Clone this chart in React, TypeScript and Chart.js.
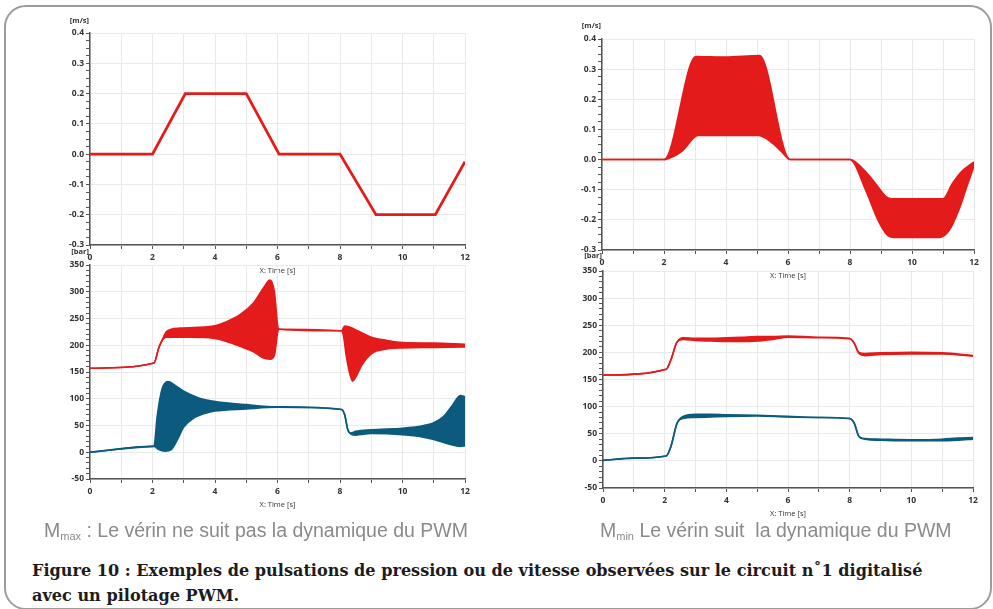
import React, { useEffect, useRef } from 'react';
import { Chart, registerables } from 'chart.js';

Chart.register(...registerables);

const RED = '#e31b1b';
const BLUE = '#0c5b7e';

// ---- Mmax, speed [m/s] ----
const mmaxSpeedTime = [0, 2, 3.05, 5, 6.05, 8, 9.15, 11.05, 12];
const mmaxSpeed = [0, 0, 0.2, 0.2, 0, 0, -0.2, -0.2, -0.025];

// ---- Mmin, speed [m/s] : envelope of the PWM oscillation ----
const mminSpeedUpTime = [0, 2, 3.03, 4, 5.08, 6.07, 8, 8.5, 8.9, 9.15, 9.35, 11.0, 11.3, 11.6, 12];
const mminSpeedUp = [0, 0, 0.342, 0.34, 0.345, 0, 0, -0.04, -0.09, -0.122, -0.13, -0.13, -0.08, -0.04, -0.008];
const mminSpeedLoTime = [0, 2, 2.3, 2.6, 3.1, 5.05, 5.3, 5.55, 5.8, 6.07, 8, 8.5, 8.9, 9.2, 9.4, 10.9, 11.2, 11.5, 11.8, 12];
const mminSpeedLo = [0, 0, 0.01, 0.03, 0.08, 0.08, 0.07, 0.05, 0.025, 0, 0, -0.1, -0.2, -0.25, -0.258, -0.258, -0.235, -0.17, -0.08, -0.022];

// ---- Mmax, pressures [bar] ----
const mmaxRedUpTime = [0, 2.05, 2.2, 2.35, 2.45, 2.88, 3.95, 4.37, 4.8, 5.23, 5.55, 5.76, 5.9, 6.02, 6.06, 8.05, 8.15, 8.3, 8.6, 9.0, 9.5, 10, 11, 12];
const mmaxRedUp = [157, 167, 195, 215, 226, 232, 236, 244, 257, 279, 307, 322, 300, 232, 230, 227, 236, 234, 226, 215, 209, 205, 204, 202];
const mmaxRedLoTime = [0, 2.05, 2.2, 2.35, 2.45, 3.2, 3.95, 4.37, 4.8, 5.23, 5.55, 5.76, 5.9, 6.02, 6.06, 8.05, 8.12, 8.2, 8.3, 8.4, 8.5, 8.7, 9.0, 9.5, 10, 11, 12];
const mmaxRedLo = [157, 167, 195, 212, 215, 215, 213, 207, 198, 188, 176, 174, 181, 228, 230, 227, 215, 180, 150, 133, 140, 163, 184, 193, 195, 196, 197];
const mmaxBlueUpTime = [0, 2.0, 2.05, 2.15, 2.3, 2.5, 2.7, 3.0, 3.5, 4.0, 5.0, 6.0, 8.05, 8.15, 8.25, 8.35, 8.5, 9.0, 10, 10.5, 11, 11.3, 11.6, 11.85, 12];
const mmaxBlueUp = [0, 11, 12, 67, 117, 132, 126, 114, 101, 95, 89, 85, 80, 70, 42, 36, 39, 42, 45, 48, 55, 66, 88, 106, 104];
const mmaxBlueLoTime = [0, 2.0, 2.05, 2.2, 2.4, 2.6, 2.8, 3.0, 3.3, 3.7, 4.0, 5.0, 6.0, 8.05, 8.15, 8.25, 8.35, 8.5, 9.0, 10, 10.5, 11, 11.5, 11.85, 12];
const mmaxBlueLo = [0, 11, 11, 5, 2, 5, 24, 47, 63, 73, 77, 81, 84, 80, 70, 42, 34, 32, 35, 33, 30, 24, 15, 11, 12];

// ---- Mmin, pressures [bar] ----
const mminRedTime = [0, 2.05, 2.2, 2.4, 2.6, 3, 3.5, 4, 4.5, 5, 5.5, 6, 7, 8, 8.15, 8.3, 8.5, 9, 10, 11, 12];
const mminRedUp = [158, 169, 186, 219, 227, 226, 226, 227, 228, 229, 229, 230, 228, 226, 217, 200, 198, 199, 200, 199, 194];
const mminRedLo = [158, 169, 186, 219, 224, 222, 221, 220, 220, 221, 224, 228, 227, 225, 216, 198, 194, 196, 197, 197, 193];
const mminBlueTime = [0, 1, 2.05, 2.2, 2.4, 2.6, 3, 3.5, 4, 5, 6, 7, 8, 8.15, 8.3, 8.5, 9, 10, 11, 11.5, 12];
const mminBlueUp = [1, 5, 9, 26, 69, 82, 86, 86, 85, 84, 82, 80, 78, 69, 45, 41, 40, 39, 40, 42, 43];
const mminBlueLo = [1, 5, 9, 26, 69, 78, 80, 81, 82, 83, 81, 80, 78, 69, 45, 40, 38, 37, 37, 38, 40];

const speedTicks = { min: -0.3, max: 0.4, minor: 0.025, major: 0.1, decimals: 1 };
const pressureTicks = { min: -50, max: 350, minor: 10, major: 50, decimals: 0 };

const TICK_FONT = { family: '"Open Sans", "DejaVu Sans", sans-serif', size: 8.5, weight: 'bold' as const };

function pts(t: number[], v: number[]) {
  return t.map((x, i) => ({ x, y: v[i] }));
}

function bandDatasets(color: string, upT: number[], up: number[], loT: number[], lo: number[]) {
  return [
    {
      data: pts(upT, up),
      borderColor: color,
      backgroundColor: color,
      borderWidth: 1.6,
      pointRadius: 0,
      cubicInterpolationMode: 'monotone' as const,
      fill: false,
    },
    {
      data: pts(loT, lo),
      borderColor: color,
      backgroundColor: color,
      borderWidth: 1.6,
      pointRadius: 0,
      cubicInterpolationMode: 'monotone' as const,
      fill: '-1',
    },
  ];
}

const unitLabel = {
  id: 'unitLabel',
  afterDraw(chart: any, _args: any, opts: any) {
    const { ctx, chartArea } = chart;
    ctx.save();
    ctx.font = 'bold 7.5px "Open Sans", "DejaVu Sans", sans-serif';
    ctx.fillStyle = '#333';
    ctx.textAlign = 'right';
    ctx.textBaseline = 'middle';
    ctx.fillText(opts.text, chartArea.left + (opts.dx || 0), chartArea.top - opts.dy);
    ctx.restore();
  },
};

function isMultiple(v: number, step: number) {
  const r = v / step;
  return Math.abs(r - Math.round(r)) < 1e-6;
}

function makeConfig(datasets: any[], t: typeof speedTicks, unit: string, unitDy: number, padRight: number): any {
  return {
    type: 'line',
    data: { datasets },
    plugins: [unitLabel],
    options: {
      animation: false,
      responsive: false,
      events: [],
      layout: { padding: { top: 25, right: padRight, left: 0, bottom: 0 } },
      plugins: {
        legend: { display: false },
        tooltip: { enabled: false },
        unitLabel: { text: unit, dy: unitDy, dx: -1 },
      },
      scales: {
        x: {
          type: 'linear',
          min: 0,
          max: 12,
          afterFit: (s: any) => {
            s.height = 38;
          },
          ticks: {
            stepSize: 1,
            autoSkip: false,
            maxRotation: 0,
            padding: 3,
            color: '#333',
            font: TICK_FONT,
            callback: (v: number) => (isMultiple(v, 2) ? String(Math.round(v)) : ''),
          },
          grid: { color: '#e9e9e9', lineWidth: 1, tickLength: 4, tickColor: '#555', tickWidth: 1 },
          border: { color: '#555', width: 1.5 },
          title: {
            display: true,
            text: 'X: Time [s]',
            color: '#333',
            font: { family: '"Open Sans", "DejaVu Sans", sans-serif', size: 7.5 },
            padding: { top: 0, bottom: 8 },
          },
        },
        y: {
          type: 'linear',
          min: t.min,
          max: t.max,
          afterFit: (s: any) => {
            s.width = 50;
          },
          ticks: {
            stepSize: t.minor,
            autoSkip: false,
            padding: 2,
            color: '#333',
            font: TICK_FONT,
            callback: (v: number) => (isMultiple(v, t.major) ? v.toFixed(t.decimals) : ''),
          },
          grid: {
            color: (ctx: any) => (ctx.tick && isMultiple(ctx.tick.value, t.major) ? '#e9e9e9' : 'rgba(0,0,0,0)'),
            lineWidth: 1,
            tickLength: 4,
            tickColor: '#555',
            tickWidth: 1,
          },
          border: { color: '#555', width: 1.5 },
        },
      },
    },
  };
}

function Plot({ left, top, width, height, config }: { left: number; top: number; width: number; height: number; config: () => any }) {
  const ref = useRef<HTMLCanvasElement>(null);
  useEffect(() => {
    const chart = new Chart(ref.current as HTMLCanvasElement, config());
    return () => chart.destroy();
  }, []);
  return (
    <canvas
      ref={ref}
      width={width}
      height={height}
      style={{ position: 'absolute', left, top, width, height, display: 'block' }}
    />
  );
}

const captionStyle: React.CSSProperties = {
  position: 'absolute',
  fontFamily: '"Liberation Sans", Arial, sans-serif',
  fontSize: 19.5,
  color: '#8a8a8a',
  whiteSpace: 'nowrap',
  lineHeight: '22px',
};

export default function App() {
  const tl = () =>
    makeConfig(
      [
        {
          data: pts(mmaxSpeedTime, mmaxSpeed),
          borderColor: RED,
          borderWidth: 2.8,
          pointRadius: 0,
          tension: 0,
          fill: false,
        },
      ],
      speedTicks,
      '[m/s]',
      12,
      25
    );
  const tr = () =>
    makeConfig(bandDatasets(RED, mminSpeedUpTime, mminSpeedUp, mminSpeedLoTime, mminSpeedLo), speedTicks, '[m/s]', 13, 15);
  const bl = () =>
    makeConfig(
      [
        ...bandDatasets(RED, mmaxRedUpTime, mmaxRedUp, mmaxRedLoTime, mmaxRedLo),
        ...bandDatasets(BLUE, mmaxBlueUpTime, mmaxBlueUp, mmaxBlueLoTime, mmaxBlueLo),
      ],
      pressureTicks,
      '[bar]',
      13,
      25
    );
  const br = () =>
    makeConfig(
      [
        ...bandDatasets(RED, mminRedTime, mminRedUp, mminRedTime, mminRedLo),
        ...bandDatasets(BLUE, mminBlueTime, mminBlueUp, mminBlueTime, mminBlueLo),
      ],
      pressureTicks,
      '[bar]',
      15,
      15
    );

  return (
    <div style={{ position: 'absolute', left: 0, top: 0, width: 993, height: 609, overflow: 'hidden', background: '#fff' }}>
      <div
        style={{
          position: 'absolute',
          left: 4,
          top: 5,
          width: 988,
          height: 605,
          boxSizing: 'border-box',
          border: '2.5px solid #9c9c9c',
          borderRadius: 22,
        }}
      />
      <Plot left={40} top={8} width={450} height={275} config={tl} />
      <Plot left={552} top={14} width={437} height={274} config={tr} />
      <Plot left={40} top={240} width={450} height={277} config={bl} />
      <Plot left={553} top={246} width={435} height={280} config={br} />

      <div style={{ ...captionStyle, left: 44, top: 519 }}>
        M<sub style={{ fontSize: 11, verticalAlign: '-3px' }}>max</sub> : Le vérin ne suit pas la dynamique du PWM
      </div>
      <div style={{ ...captionStyle, left: 600, top: 519 }}>
        M<sub style={{ fontSize: 11, verticalAlign: '-3px' }}>min</sub> Le vérin suit&nbsp; la dynamique du PWM
      </div>
      <div
        style={{
          position: 'absolute',
          left: 32,
          top: 558,
          fontFamily: '"DejaVu Serif", "Liberation Serif", serif',
          fontWeight: 'bold',
          fontSize: 16.1,
          lineHeight: '25px',
          color: '#1c1c1c',
          whiteSpace: 'nowrap',
        }}
      >
        Figure 10 : Exemples de pulsations de pression ou de vitesse observées sur le circuit n˚1 digitalisé
        <br />
        avec un pilotage PWM.
      </div>
    </div>
  );
}
